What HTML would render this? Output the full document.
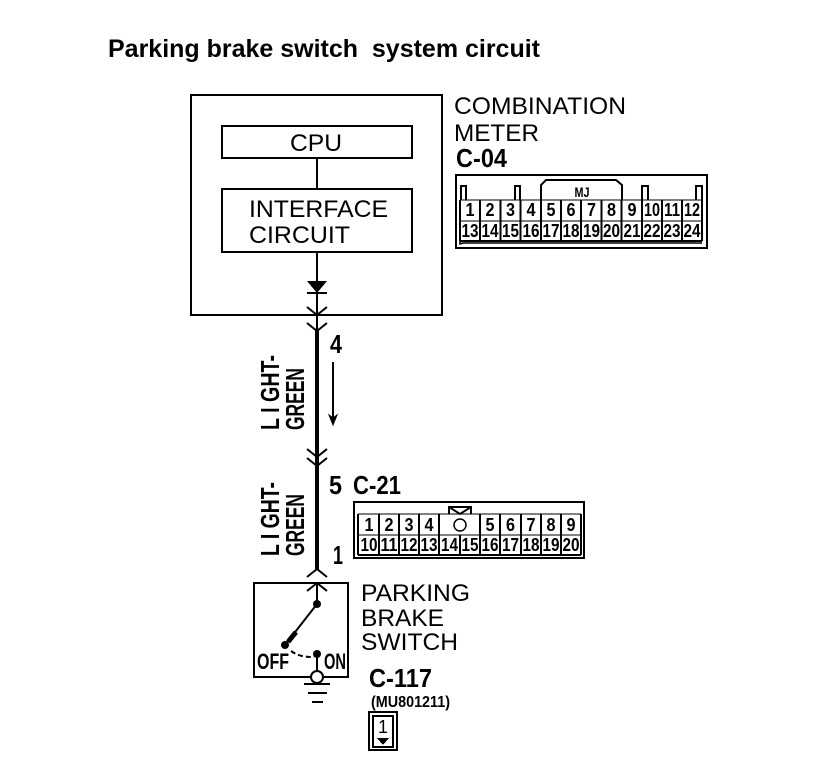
<!DOCTYPE html>
<html><head><meta charset="utf-8"><style>
html,body{margin:0;padding:0;background:#fff}
svg{display:block}
text{font-family:"Liberation Sans",sans-serif;fill:#000}
.l{font-size:24px}
.n{font-size:18px;font-weight:bold;text-anchor:middle}
.c{font-weight:bold;font-size:26px}
</style></head><body>
<svg width="816" height="762" viewBox="0 0 816 762" xmlns="http://www.w3.org/2000/svg" fill="none" stroke="#000" stroke-width="2" shape-rendering="crispEdges">
<g stroke="none">
<text x="108" y="57" font-size="25" font-weight="bold" textLength="432" lengthAdjust="spacingAndGlyphs" xml:space="preserve">Parking brake switch  system circuit</text>
<text class="l" x="290" y="151" textLength="52" lengthAdjust="spacingAndGlyphs">CPU</text>
<text class="l" x="249" y="217" textLength="139" lengthAdjust="spacingAndGlyphs">INTERFACE</text>
<text class="l" x="249" y="243" textLength="101" lengthAdjust="spacingAndGlyphs">CIRCUIT</text>
<text class="l" x="454" y="114" textLength="172" lengthAdjust="spacingAndGlyphs">COMBINATION</text>
<text class="l" x="454" y="141" textLength="85" lengthAdjust="spacingAndGlyphs">METER</text>
<text class="c" x="456" y="167" textLength="51" lengthAdjust="spacingAndGlyphs">C-04</text>
<text class="c" x="330" y="353" textLength="12" lengthAdjust="spacingAndGlyphs">4</text>
<text class="c" x="329" y="494" textLength="13" lengthAdjust="spacingAndGlyphs">5</text>
<text class="c" x="353" y="494" textLength="48" lengthAdjust="spacingAndGlyphs">C-21</text>
<text class="c" x="333" y="564" textLength="10" lengthAdjust="spacingAndGlyphs">1</text>
<text class="l" x="361" y="601" textLength="109" lengthAdjust="spacingAndGlyphs">PARKING</text>
<text class="l" x="361" y="626" textLength="83" lengthAdjust="spacingAndGlyphs">BRAKE</text>
<text class="l" x="361" y="650" textLength="97" lengthAdjust="spacingAndGlyphs">SWITCH</text>
<text class="c" x="369" y="687" textLength="63" lengthAdjust="spacingAndGlyphs">C-117</text>
<text x="371" y="707" font-size="16" font-weight="bold" textLength="79" lengthAdjust="spacingAndGlyphs">(MU801211)</text>
<text x="257" y="669" font-size="22" font-weight="bold" textLength="32" lengthAdjust="spacingAndGlyphs">OFF</text>
<text x="324" y="669" font-size="22" font-weight="bold" textLength="22" lengthAdjust="spacingAndGlyphs">ON</text>
<text x="383" y="733" font-size="18" text-anchor="middle">1</text>
<text transform="translate(279,430) rotate(-90)" font-size="26" font-weight="bold" textLength="75" lengthAdjust="spacingAndGlyphs" xml:space="preserve">L I GHT-</text>
<text transform="translate(304,430) rotate(-90)" font-size="26" font-weight="bold" textLength="62" lengthAdjust="spacingAndGlyphs">GREEN</text>
<text transform="translate(279,556) rotate(-90)" font-size="26" font-weight="bold" textLength="74" lengthAdjust="spacingAndGlyphs" xml:space="preserve">L I GHT-</text>
<text transform="translate(304,556) rotate(-90)" font-size="26" font-weight="bold" textLength="62" lengthAdjust="spacingAndGlyphs">GREEN</text>
</g>
<rect x="191" y="95" width="251" height="220"/>
<rect x="222" y="126" width="190" height="32"/>
<rect x="222" y="189" width="190" height="63"/>
<path d="M317 158V189M317 252V330"/>
<path d="M317 330V570" stroke-width="4"/>
<g shape-rendering="auto">
<path d="M307 281H327L317 293Z" fill="#000" stroke="none"/>
<path d="M307 293H327"/>
<path d="M307 307L317 315L327 307M307 323L317 331L327 323M307 449L317 457L327 449M307 458L317 466L327 458M307 577L317 569L327 577M307 591L317 583L327 591"/>
<path d="M333 362V422"/>
<path d="M329 415L333 425L337 415L333 418Z" fill="#000" stroke-width="1"/>
<path d="M317 584V604M317 604L285 645"/>
<path d="M296 632L288 642" stroke-width="5"/>
<circle cx="317" cy="604" r="4" fill="#000" stroke="none"/>
<circle cx="285" cy="645" r="4" fill="#000" stroke="none"/>
<circle cx="317" cy="654" r="4" fill="#000" stroke="none"/>
<path d="M291 651C298 656 305 657 314 657" stroke-dasharray="5 3"/>
<path d="M317 654V671"/>
</g>
<rect x="254" y="583" width="94" height="94"/>
<g shape-rendering="auto"><circle cx="317" cy="677" r="6" fill="#fff"/></g>
<path d="M304 684H330M308 693H327M312 702H323"/>

<!-- C-04 -->
<rect x="456" y="175" width="251" height="73"/>
<path d="M460 200H702M460 221H702" stroke-width="1"/>
<path d="M460 241H702"/>
<path d="M460 200V241M702 200V241M480.200 200V241M500.400 200V241M520.600 200V241M540.800 200V241M561 200V241M581.200 200V241M601.400 200V241M621.600 200V241M641.800 200V241M662 200V241M682.200 200V241"/>
<path d="M461 200V186H466V200M515 200V186H520V200M642 200V186H648V200M696 200V186H702V200"/>
<path d="M541 200V185L546 180H616L622 185V200" shape-rendering="auto"/>
<path d="M460 241V244L463 243H702" shape-rendering="auto" stroke-width="1.500"/>
<g stroke="none">
<text x="582" y="197" font-size="14" font-weight="bold" text-anchor="middle" textLength="15" lengthAdjust="spacingAndGlyphs">MJ</text>
<text class="n" x="470" y="216" textLength="9" lengthAdjust="spacingAndGlyphs">1</text><text class="n" x="490" y="216" textLength="9" lengthAdjust="spacingAndGlyphs">2</text><text class="n" x="510.500" y="216" textLength="9" lengthAdjust="spacingAndGlyphs">3</text><text class="n" x="531" y="216" textLength="9" lengthAdjust="spacingAndGlyphs">4</text><text class="n" x="551" y="216" textLength="9" lengthAdjust="spacingAndGlyphs">5</text><text class="n" x="571" y="216" textLength="9" lengthAdjust="spacingAndGlyphs">6</text><text class="n" x="591.500" y="216" textLength="9" lengthAdjust="spacingAndGlyphs">7</text><text class="n" x="611.500" y="216" textLength="9" lengthAdjust="spacingAndGlyphs">8</text><text class="n" x="632" y="216" textLength="9" lengthAdjust="spacingAndGlyphs">9</text>
<text class="n" x="652" y="216" textLength="16" lengthAdjust="spacingAndGlyphs">10</text><text class="n" x="672" y="216" textLength="16" lengthAdjust="spacingAndGlyphs">11</text><text class="n" x="692" y="216" textLength="16" lengthAdjust="spacingAndGlyphs">12</text>
<text class="n" x="470" y="237" textLength="17" lengthAdjust="spacingAndGlyphs">13</text><text class="n" x="490" y="237" textLength="17" lengthAdjust="spacingAndGlyphs">14</text><text class="n" x="510.500" y="237" textLength="17" lengthAdjust="spacingAndGlyphs">15</text><text class="n" x="531" y="237" textLength="17" lengthAdjust="spacingAndGlyphs">16</text><text class="n" x="551" y="237" textLength="17" lengthAdjust="spacingAndGlyphs">17</text><text class="n" x="571" y="237" textLength="17" lengthAdjust="spacingAndGlyphs">18</text><text class="n" x="591.500" y="237" textLength="17" lengthAdjust="spacingAndGlyphs">19</text><text class="n" x="611.500" y="237" textLength="17" lengthAdjust="spacingAndGlyphs">20</text><text class="n" x="632" y="237" textLength="17" lengthAdjust="spacingAndGlyphs">21</text><text class="n" x="652" y="237" textLength="17" lengthAdjust="spacingAndGlyphs">22</text><text class="n" x="672" y="237" textLength="17" lengthAdjust="spacingAndGlyphs">23</text><text class="n" x="692" y="237" textLength="17" lengthAdjust="spacingAndGlyphs">24</text>
</g>

<!-- C-21 -->
<rect x="354" y="502" width="230" height="56"/>
<path d="M358 514H581M358 535H581" stroke-width="1"/>
<path d="M358 555H581"/>
<path d="M358 514V555M581 514V555M379 514V555M399 514V555M419 514V555M439 514V555M460 535V555M480 514V555M500 514V555M521 514V555M541 514V555M561 514V555"/>
<path d="M449 514V507H471V514"/>
<path d="M449 507L460 514L471 507" shape-rendering="auto"/>
<circle cx="460" cy="525" r="6" shape-rendering="auto" stroke-width="1.500"/>
<g stroke="none">
<text class="n" x="369" y="531" textLength="9" lengthAdjust="spacingAndGlyphs">1</text><text class="n" x="389" y="531" textLength="9" lengthAdjust="spacingAndGlyphs">2</text><text class="n" x="409" y="531" textLength="9" lengthAdjust="spacingAndGlyphs">3</text><text class="n" x="429" y="531" textLength="9" lengthAdjust="spacingAndGlyphs">4</text><text class="n" x="490" y="531" textLength="9" lengthAdjust="spacingAndGlyphs">5</text><text class="n" x="510.500" y="531" textLength="9" lengthAdjust="spacingAndGlyphs">6</text><text class="n" x="531" y="531" textLength="9" lengthAdjust="spacingAndGlyphs">7</text><text class="n" x="551" y="531" textLength="9" lengthAdjust="spacingAndGlyphs">8</text><text class="n" x="571" y="531" textLength="9" lengthAdjust="spacingAndGlyphs">9</text>
<text class="n" x="369" y="551" textLength="17" lengthAdjust="spacingAndGlyphs">10</text><text class="n" x="389" y="551" textLength="17" lengthAdjust="spacingAndGlyphs">11</text><text class="n" x="409" y="551" textLength="17" lengthAdjust="spacingAndGlyphs">12</text><text class="n" x="429" y="551" textLength="17" lengthAdjust="spacingAndGlyphs">13</text><text class="n" x="449.500" y="551" textLength="17" lengthAdjust="spacingAndGlyphs">14</text><text class="n" x="470" y="551" textLength="17" lengthAdjust="spacingAndGlyphs">15</text><text class="n" x="490" y="551" textLength="17" lengthAdjust="spacingAndGlyphs">16</text><text class="n" x="510.500" y="551" textLength="17" lengthAdjust="spacingAndGlyphs">17</text><text class="n" x="531" y="551" textLength="17" lengthAdjust="spacingAndGlyphs">18</text><text class="n" x="551" y="551" textLength="17" lengthAdjust="spacingAndGlyphs">19</text><text class="n" x="571" y="551" textLength="17" lengthAdjust="spacingAndGlyphs">20</text>
</g>

<!-- C-117 connector -->
<rect x="369" y="712" width="28" height="38"/>
<rect x="373" y="716" width="20" height="31"/>
<path d="M377 738H389L383 745Z" fill="#000" stroke="none"/>
</svg>
</body></html>
